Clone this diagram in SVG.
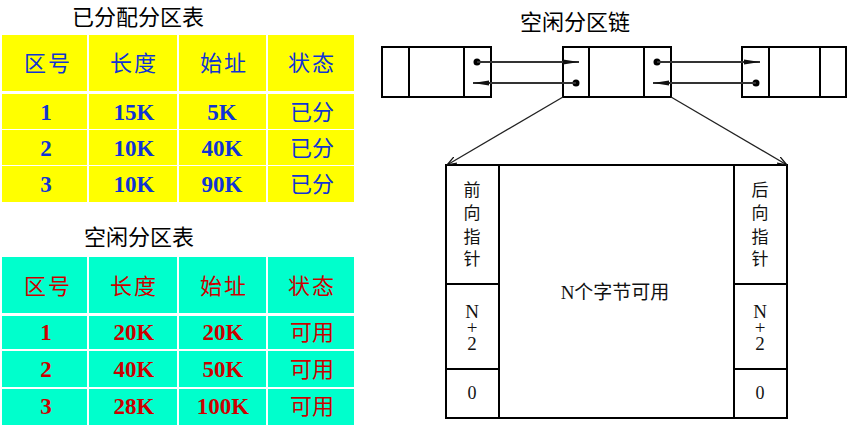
<svg xmlns="http://www.w3.org/2000/svg" width="850" height="427" viewBox="0 0 850 427">
<defs>
<style>
.title{font-family:"Noto Sans CJK SC","Noto Sans",sans-serif;font-size:22px;fill:#000;text-anchor:middle}
.ycell{fill:#ffff00}
.tcell{fill:#00ffcc}
.hdr{font-family:"Noto Sans CJK SC",serif;font-size:22px;text-anchor:middle;letter-spacing:2px}
.num{font-family:"Liberation Serif","Noto Sans CJK SC",serif;font-size:23px;font-weight:bold;text-anchor:middle}
.cn{font-family:"Noto Sans CJK SC",serif;font-size:22px;text-anchor:middle}
.blue{fill:#1034d4}
.red{fill:#cc0000}
.box{fill:#fff;stroke:#000;stroke-width:2}
.div{stroke:#000;stroke-width:2;fill:none}
.thin{stroke:#222;stroke-width:1.3;fill:none}
.link{stroke:#333;stroke-width:2;fill:none}
.dt{font-family:"Liberation Serif","Noto Sans CJK SC",serif;font-size:17px;fill:#111;text-anchor:middle}
.dn{font-family:"Liberation Serif",serif;font-size:18px;fill:#111;text-anchor:middle}
.vt{font-family:"Liberation Serif",serif;font-size:19px;fill:#111;text-anchor:middle;writing-mode:vertical-rl;text-orientation:upright;letter-spacing:-5px}
</style>
<marker id="ah" viewBox="0 0 16 6" refX="16" refY="3" markerWidth="16" markerHeight="6" markerUnits="userSpaceOnUse" orient="auto">
<path d="M0,0.5 L16,3 L0,5.5 Z" fill="#111"/>
</marker>
<marker id="ah2" viewBox="0 0 10 8" refX="10" refY="4" markerWidth="10" markerHeight="8" markerUnits="userSpaceOnUse" orient="auto">
<path d="M0,0.5 L10,4 L0,7.5" fill="none" stroke="#111" stroke-width="1.3"/>
</marker>
</defs>
<rect width="850" height="427" fill="#fff"/>

<!-- Allocated partition table -->
<g id="alloc-table">
<text class="title" x="138" y="25">已分配分区表</text>
<g class="ycell">
<rect x="2" y="35" width="85" height="56"/><rect x="89" y="35" width="88" height="56"/><rect x="179" y="35" width="87" height="56"/><rect x="268" y="35" width="86" height="56"/>
<rect x="2" y="94" width="85" height="35"/><rect x="89" y="94" width="88" height="35"/><rect x="179" y="94" width="87" height="35"/><rect x="268" y="94" width="86" height="35"/>
<rect x="2" y="130" width="85" height="35"/><rect x="89" y="130" width="88" height="35"/><rect x="179" y="130" width="87" height="35"/><rect x="268" y="130" width="86" height="35"/>
<rect x="2" y="166" width="85" height="36"/><rect x="89" y="166" width="88" height="36"/><rect x="179" y="166" width="87" height="36"/><rect x="268" y="166" width="86" height="36"/>
</g>
<g class="blue">
<text class="hdr" x="48" y="71">区号</text><text class="hdr" x="134" y="71">长度</text><text class="hdr" x="224" y="71">始址</text><text class="hdr" x="312" y="71">状态</text>
<text class="num" x="46" y="120">1</text><text class="num" x="134" y="120">15K</text><text class="num" x="222" y="120">5K</text><text class="cn" x="312" y="120">已分</text>
<text class="num" x="46" y="156">2</text><text class="num" x="134" y="156">10K</text><text class="num" x="222" y="156">40K</text><text class="cn" x="312" y="156">已分</text>
<text class="num" x="46" y="192">3</text><text class="num" x="134" y="192">10K</text><text class="num" x="222" y="192">90K</text><text class="cn" x="312" y="192">已分</text>
</g>
</g>

<!-- Free partition table -->
<g id="free-table">
<text class="title" x="139" y="245">空闲分区表</text>
<g class="tcell">
<rect x="2" y="257" width="85" height="56"/><rect x="89" y="257" width="88" height="56"/><rect x="179" y="257" width="87" height="56"/><rect x="268" y="257" width="86" height="56"/>
<rect x="2" y="316" width="85" height="33"/><rect x="89" y="316" width="88" height="33"/><rect x="179" y="316" width="87" height="33"/><rect x="268" y="316" width="86" height="33"/>
<rect x="2" y="351" width="85" height="36"/><rect x="89" y="351" width="88" height="36"/><rect x="179" y="351" width="87" height="36"/><rect x="268" y="351" width="86" height="36"/>
<rect x="2" y="389" width="85" height="36"/><rect x="89" y="389" width="88" height="36"/><rect x="179" y="389" width="87" height="36"/><rect x="268" y="389" width="86" height="36"/>
</g>
<g class="red">
<text class="hdr" x="48" y="294">区号</text><text class="hdr" x="134" y="294">长度</text><text class="hdr" x="224" y="294">始址</text><text class="hdr" x="312" y="294">状态</text>
<text class="num" x="46" y="340">1</text><text class="num" x="134" y="340">20K</text><text class="num" x="223" y="340">20K</text><text class="cn" x="312" y="340">可用</text>
<text class="num" x="46" y="377">2</text><text class="num" x="134" y="377">40K</text><text class="num" x="223" y="377">50K</text><text class="cn" x="312" y="377">可用</text>
<text class="num" x="46" y="414">3</text><text class="num" x="134" y="414">28K</text><text class="num" x="223" y="414">100K</text><text class="cn" x="312" y="414">可用</text>
</g>
</g>

<text class="title" x="575" y="30">空闲分区链</text>

<!-- Linked list nodes -->
<g id="node-left">
<rect class="box" x="382" y="47" width="109" height="50"/>
<line class="div" x1="409" y1="47" x2="409" y2="97"/>
<line class="div" x1="464" y1="47" x2="464" y2="97"/>
</g>
<g id="node-mid">
<rect class="box" x="563" y="47" width="108" height="50"/>
<line class="div" x1="589" y1="47" x2="589" y2="97"/>
<line class="div" x1="644" y1="47" x2="644" y2="97"/>
</g>
<g id="node-right">
<rect class="box" x="742" y="47" width="104" height="50"/>
<line class="div" x1="769" y1="47" x2="769" y2="97"/>
<line class="div" x1="820" y1="47" x2="820" y2="97"/>
</g>

<!-- Free block detail -->
<g id="block">
<rect class="box" x="446" y="165" width="341" height="253" stroke-width="1.5"/>
<line class="div" x1="499" y1="165" x2="499" y2="418" stroke-width="1.5"/>
<line class="div" x1="734" y1="165" x2="734" y2="418" stroke-width="1.5"/>
<line class="div" x1="446" y1="284" x2="499" y2="284" stroke-width="1.5"/>
<line class="div" x1="446" y1="369" x2="499" y2="369" stroke-width="1.5"/>
<line class="div" x1="734" y1="284" x2="787" y2="284" stroke-width="1.5"/>
<line class="div" x1="734" y1="369" x2="787" y2="369" stroke-width="1.5"/>
<text class="dt" x="472" y="196">前</text><text class="dt" x="472" y="219">向</text><text class="dt" x="472" y="243">指</text><text class="dt" x="472" y="265">针</text>
<text class="dt" x="760" y="196">后</text><text class="dt" x="760" y="219">向</text><text class="dt" x="760" y="243">指</text><text class="dt" x="760" y="265">针</text>
<text class="vt" x="472" y="325">N+2</text>
<text class="vt" x="760" y="325">N+2</text>
<text class="dn" x="472" y="399">0</text>
<text class="dn" x="760" y="399">0</text>
<text class="dt" x="615" y="299" style="font-size:19px">N个字节可用</text>
</g>

<!-- Connectors -->
<g id="connectors">
<circle cx="477" cy="62" r="3.5" fill="#000"/>
<line class="link" x1="477" y1="62" x2="579" y2="62" marker-end="url(#ah)"/>
<circle cx="576" cy="83" r="3.5" fill="#000"/>
<line class="link" x1="576" y1="83" x2="473" y2="83" marker-end="url(#ah)"/>
<circle cx="657" cy="62" r="3.5" fill="#000"/>
<line class="link" x1="657" y1="62" x2="760" y2="62" marker-end="url(#ah)"/>
<circle cx="756" cy="83" r="3.5" fill="#000"/>
<line class="link" x1="756" y1="83" x2="653" y2="83" marker-end="url(#ah)"/>
<line class="thin" x1="563" y1="97" x2="447" y2="165" marker-end="url(#ah2)"/>
<line class="thin" x1="671" y1="97" x2="787" y2="165" marker-end="url(#ah2)"/>
</g>
</svg>
